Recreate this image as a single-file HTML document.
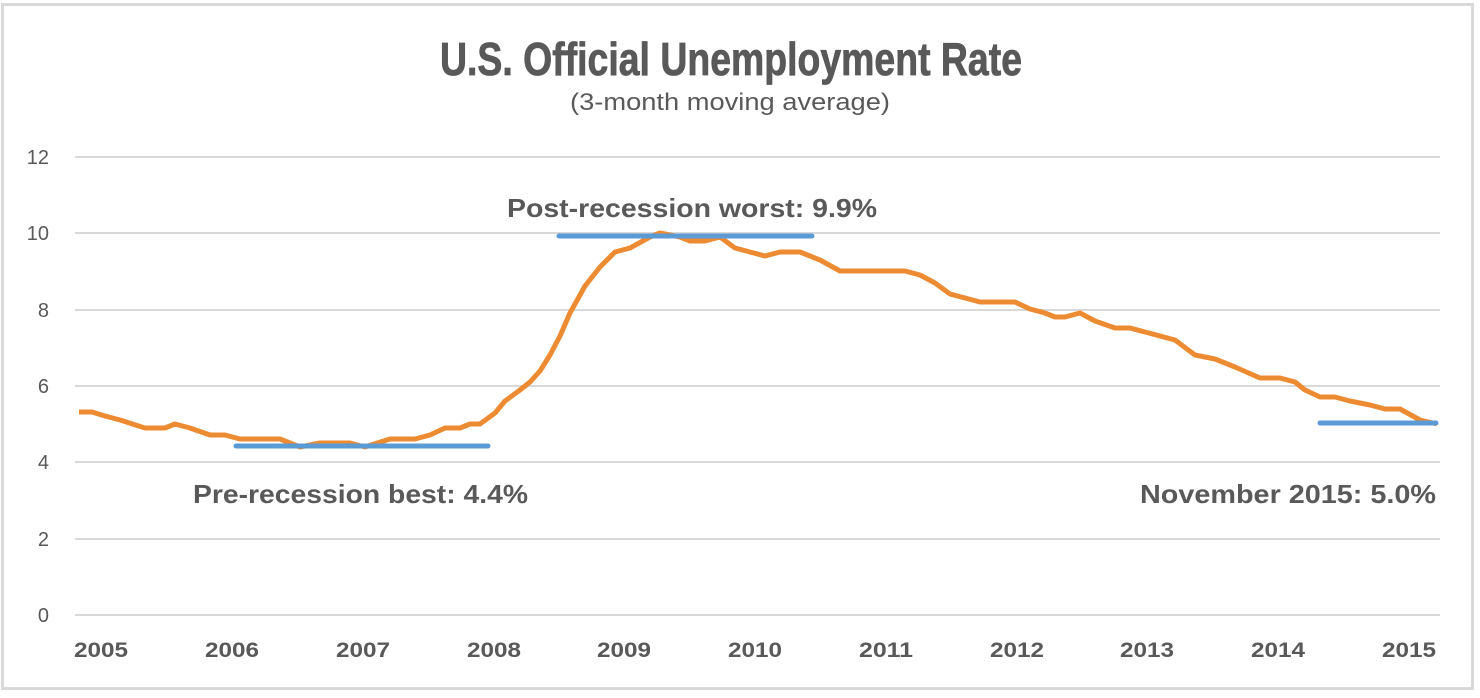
<!DOCTYPE html>
<html><head><style>
html,body{margin:0;padding:0;background:#fff;}
svg{display:block;}
</style></head><body>
<svg width="1480" height="698" xmlns="http://www.w3.org/2000/svg" font-family="Liberation Sans, sans-serif">
<rect x="2.5" y="4.5" width="1470" height="684" fill="#fff" stroke="#d9d9d9" stroke-width="3"/>
<text x="731" y="75" text-anchor="middle" font-size="46" font-weight="bold" fill="#595959" stroke="#595959" stroke-width="0.8" textLength="582" lengthAdjust="spacingAndGlyphs">U.S. Official Unemployment Rate</text>
<text x="730" y="110" text-anchor="middle" font-size="24" fill="#595959" textLength="320" lengthAdjust="spacingAndGlyphs">(3-month moving average)</text>
<g stroke="#d9d9d9" stroke-width="2">
<line x1="75" x2="1440" y1="157" y2="157"/><line x1="75" x2="1440" y1="233" y2="233"/>
<line x1="75" x2="1440" y1="310" y2="310"/><line x1="75" x2="1440" y1="386" y2="386"/>
<line x1="75" x2="1440" y1="462" y2="462"/><line x1="75" x2="1440" y1="539" y2="539"/>
<line x1="75" x2="1440" y1="615" y2="615"/>
</g>
<g font-size="20" fill="#595959" text-anchor="end">
<text x="49" y="164">12</text><text x="49" y="240">10</text><text x="49" y="317">8</text>
<text x="49" y="393">6</text><text x="49" y="469">4</text><text x="49" y="546">2</text><text x="49" y="622">0</text>
</g>
<g font-size="21" font-weight="bold" fill="#595959" text-anchor="middle">
<text x="101" y="657" textLength="54" lengthAdjust="spacingAndGlyphs">2005</text><text x="232" y="657" textLength="54" lengthAdjust="spacingAndGlyphs">2006</text><text x="363" y="657" textLength="54" lengthAdjust="spacingAndGlyphs">2007</text>
<text x="494" y="657" textLength="54" lengthAdjust="spacingAndGlyphs">2008</text><text x="624" y="657" textLength="54" lengthAdjust="spacingAndGlyphs">2009</text><text x="755" y="657" textLength="54" lengthAdjust="spacingAndGlyphs">2010</text>
<text x="886" y="657" textLength="54" lengthAdjust="spacingAndGlyphs">2011</text><text x="1017" y="657" textLength="54" lengthAdjust="spacingAndGlyphs">2012</text><text x="1147" y="657" textLength="54" lengthAdjust="spacingAndGlyphs">2013</text>
<text x="1278" y="657" textLength="54" lengthAdjust="spacingAndGlyphs">2014</text><text x="1409" y="657" textLength="54" lengthAdjust="spacingAndGlyphs">2015</text>
</g>
<polyline fill="none" stroke="#ed8b33" stroke-width="5" stroke-linejoin="round" points="
79,412 92,412 105,416 120,420 145,428 165,428 175,424 190,428 210,435 225,435 240,439 280,439 300,447 320,443 350,443 365,447 390,439 415,439 430,435 445,428 460,428 470,424 480,424 495,413 505,401 520,390 530,382 540,371 550,355 560,336 570,313 585,286 600,267 615,252 630,248 650,237 660,233 680,237 690,241 705,241 720,237 735,248 750,252 765,256 780,252 800,252 820,260 840,271 905,271 920,275 935,283 950,294 965,298 980,302 1015,302 1030,309 1045,313 1055,317 1065,317 1080,313 1095,321 1115,328 1130,328 1145,332 1160,336 1175,340 1195,355 1215,359 1235,367 1260,378 1280,378 1295,382 1305,390 1320,397 1335,397 1350,401 1370,405 1385,409 1400,409 1420,420 1437,424"/>
<g stroke="#5b9bd5" stroke-width="5" stroke-linecap="round">
<line x1="236" x2="488" y1="446" y2="446"/>
<line x1="559" x2="812" y1="236" y2="236"/>
<line x1="1320" x2="1436" y1="423" y2="423"/>
</g>
<g font-size="26" font-weight="bold" fill="#595959">
<text x="507" y="217" textLength="370" lengthAdjust="spacingAndGlyphs">Post-recession worst: 9.9%</text>
<text x="193" y="503" textLength="335" lengthAdjust="spacingAndGlyphs">Pre-recession best: 4.4%</text>
<text x="1140" y="503" textLength="296" lengthAdjust="spacingAndGlyphs">November 2015: 5.0%</text>
</g>
</svg>
</body></html>
